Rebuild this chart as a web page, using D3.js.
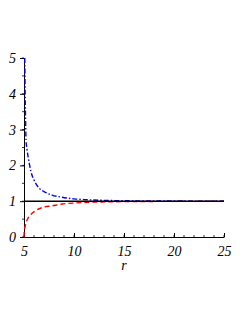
<!DOCTYPE html>
<html>
<head>
<meta charset="utf-8">
<script src="https://cdn.jsdelivr.net/npm/d3@7"></script>
<style>
  body { margin: 0; background: #fff; }
  svg text { font-family: "Liberation Serif", "Times New Roman", serif !important; font-style: italic; }
</style>
</head>
<body>
<script>
// values
var blueR = [5.08, 5.1, 5.13, 5.17, 5.2, 5.3, 5.47, 5.7, 6.0, 6.5, 7.0, 7.8, 8.8, 10, 11, 12, 13.5, 15, 17, 20, 22.5, 25];
var blueY = [5.0, 4.4, 3.7, 3.1, 2.72, 2.45, 2.15, 1.82, 1.59, 1.37, 1.27, 1.17, 1.11, 1.065, 1.045, 1.032, 1.02, 1.013, 1.008, 1.004, 1.003, 1.002];

var redR = [5.0, 5.02, 5.07, 5.15, 5.3, 5.63, 6.13, 6.8, 7.8, 8.8, 10, 11, 12.5, 15, 17.5, 20, 22.5, 25];
var redY = [0, 0.14, 0.24, 0.35, 0.47, 0.61, 0.73, 0.82, 0.87, 0.92, 0.95, 0.965, 0.978, 0.988, 0.993, 0.996, 0.998, 0.999];

var xTicks = [5, 10, 15, 20, 25];
var yTicks = [0, 1, 2, 3, 4, 5];
var xMinor = d3.range(5, 25.01, 1);
var yMinor = d3.range(0, 5.01, 0.5);

var width = 249, height = 323;
var svg = d3.select("body").append("svg")
            .attr("width", width)
            .attr("height", height);

var x = d3.scaleLinear().domain([5, 25]).range([24, 224]);
var y = d3.scaleLinear().domain([0, 5]).range([237, 58]);

// minor ticks
svg.selectAll(".xminor").data(xMinor).enter().append("line")
   .attr("x1", function(d) { return x(d); })
   .attr("x2", function(d) { return x(d); })
   .attr("y1", y(0)).attr("y2", y(0) - 2)
   .style("stroke", "#000").style("stroke-width", 0.8);
svg.selectAll(".yminor").data(yMinor).enter().append("line")
   .attr("x1", x(5) - 2).attr("x2", x(5))
   .attr("y1", function(d) { return y(d); })
   .attr("y2", function(d) { return y(d); })
   .style("stroke", "#000").style("stroke-width", 0.8);

// axes
var xAxis = d3.axisBottom(x).tickValues(xTicks).tickFormat(d3.format("d")).tickSize(0).tickPadding(9);
var yAxis = d3.axisLeft(y).tickValues(yTicks).tickFormat(d3.format("d")).tickSize(4).tickPadding(4);

var gx = svg.append("g").attr("transform", "translate(0," + y(0) + ")").call(xAxis);
var gy = svg.append("g").attr("transform", "translate(" + x(5) + ",0)").call(yAxis);
[gx, gy].forEach(function(g) {
  g.attr("font-family", "Liberation Serif").attr("font-size", 14);
  g.select(".domain").attr("stroke", "#000").attr("stroke-width", 1);
  g.selectAll("text").attr("fill", "#000");
});
gx.selectAll(".tick line").remove();
gx.selectAll(".tick").append("line")
  .attr("y1", 0).attr("y2", -4).attr("stroke", "#000");

svg.append("text")
   .attr("x", x(15)).attr("y", 270)
   .attr("text-anchor", "middle")
   .attr("font-size", 14)
   .text("r");

var line = d3.line()
  .x(function(d) { return x(d[0]); })
  .y(function(d) { return y(d[1]); })
  .curve(d3.curveMonotoneX);

svg.append("path")
   .datum(d3.zip(redR, redY))
   .attr("d", line)
   .style("fill", "none")
   .style("stroke", "#ff0000")
   .style("stroke-width", 1.4)
   .style("stroke-dasharray", "5,3");

svg.append("path")
   .datum(d3.zip(blueR, blueY))
   .attr("d", line)
   .style("fill", "none")
   .style("stroke", "#0000ff")
   .style("stroke-width", 1.4)
   .style("stroke-dasharray", "5,2,1.5,2");

// reference line at 1
svg.append("line")
   .attr("x1", x(5)).attr("x2", x(25))
   .attr("y1", y(1)).attr("y2", y(1))
   .style("stroke", "#000")
   .style("stroke-width", 1.4);
</script>
</body>
</html>
